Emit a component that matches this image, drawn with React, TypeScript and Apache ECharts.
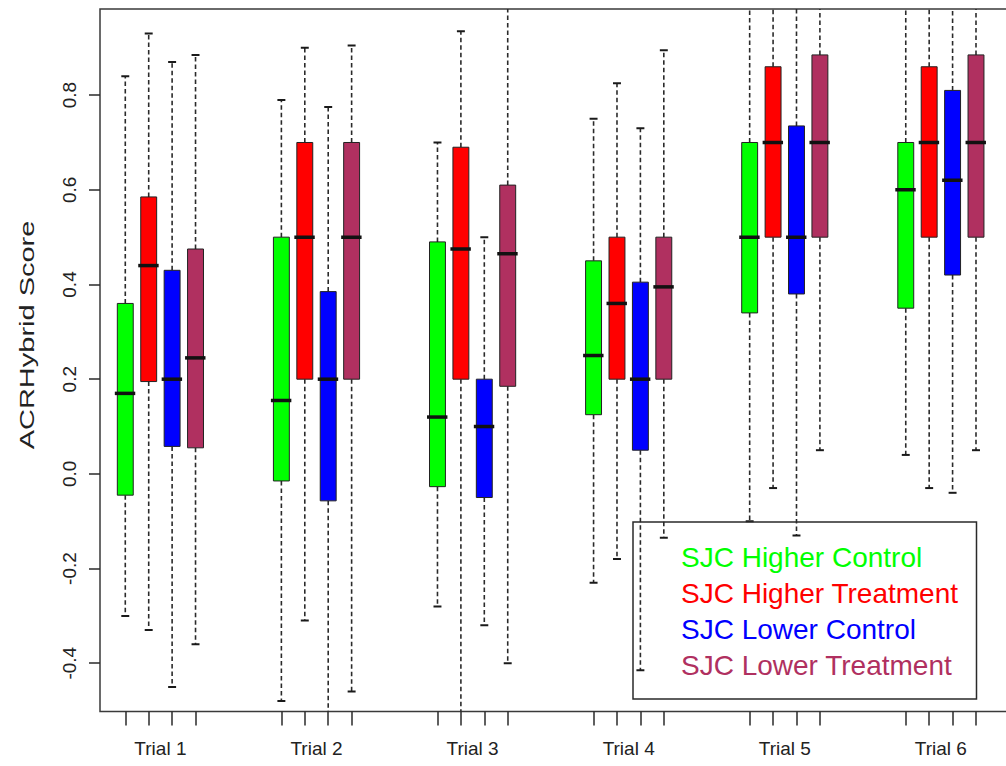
import React, { useEffect, useRef } from "react";
import * as echarts from "echarts";

// ---- Data ----
const trials = ["Trial 1", "Trial 2", "Trial 3", "Trial 4", "Trial 5", "Trial 6"];
const yTicks = [-0.4, -0.2, 0.0, 0.2, 0.4, 0.6, 0.8];
const seriesNames = [
  "SJC Higher Control",
  "SJC Higher Treatment",
  "SJC Lower Control",
  "SJC Lower Treatment",
];
const seriesColors = ["#00FF00", "#FF0000", "#0000FF", "#B03060"];

// each row: [lower whisker, Q1, median, Q3, upper whisker] per trial
const higherControl = [
  [-0.30, -0.045, 0.17, 0.36, 0.84],
  [-0.48, -0.015, 0.155, 0.50, 0.79],
  [-0.28, -0.027, 0.12, 0.49, 0.70],
  [-0.23, 0.125, 0.25, 0.45, 0.75],
  [-0.10, 0.34, 0.50, 0.70, 1.10],
  [0.04, 0.35, 0.60, 0.70, 1.10],
];
const higherTreatment = [
  [-0.33, 0.195, 0.44, 0.585, 0.93],
  [-0.31, 0.20, 0.50, 0.70, 0.90],
  [-0.56, 0.20, 0.475, 0.69, 0.935],
  [-0.18, 0.20, 0.36, 0.50, 0.825],
  [-0.03, 0.50, 0.70, 0.86, 1.10],
  [-0.03, 0.50, 0.70, 0.86, 1.10],
];
const lowerControl = [
  [-0.45, 0.058, 0.20, 0.43, 0.87],
  [-0.56, -0.057, 0.20, 0.385, 0.775],
  [-0.32, -0.05, 0.10, 0.20, 0.50],
  [-0.415, 0.05, 0.20, 0.405, 0.73],
  [-0.13, 0.38, 0.50, 0.735, 1.10],
  [-0.04, 0.42, 0.62, 0.81, 1.10],
];
const lowerTreatment = [
  [-0.36, 0.055, 0.245, 0.475, 0.885],
  [-0.46, 0.20, 0.50, 0.70, 0.905],
  [-0.40, 0.185, 0.465, 0.61, 1.10],
  [-0.135, 0.20, 0.395, 0.50, 0.895],
  [0.05, 0.50, 0.70, 0.885, 1.10],
  [0.05, 0.50, 0.70, 0.885, 1.10],
];
const allStats = [higherControl, higherTreatment, lowerControl, lowerTreatment];

// layout of box positions on the x value axis
const GROUP_SPACING = 20 / 3;
const boxPos = (g: number, s: number) => g * GROUP_SPACING + s + 1;
const groupCenter = (g: number) => g * GROUP_SPACING + 2.5;

const FONT = "'Liberation Sans', Arial, Helvetica, sans-serif";

export default function App() {
  const ref = useRef<HTMLDivElement>(null);

  useEffect(() => {
    if (!ref.current) return;
    const chart = echarts.init(ref.current, undefined, { renderer: "svg" });

    const renderItem = (params: any, api: any) => {
      const x = api.value(0);
      const pLow = api.coord([x, api.value(1)]);
      const pQ1 = api.coord([x, api.value(2)]);
      const pMed = api.coord([x, api.value(3)]);
      const pQ3 = api.coord([x, api.value(4)]);
      const pHigh = api.coord([x, api.value(5)]);
      const bw = api.size([1, 0])[0] * 0.68;
      const cx = pLow[0];
      const color = api.visual("color");
      const dash = { stroke: "#2a2a2a", lineWidth: 1.6, lineDash: [4.5, 3] };
      const cap = { stroke: "#1a1a1a", lineWidth: 2 };
      return {
        type: "group",
        children: [
          { type: "line", shape: { x1: cx, y1: pQ3[1], x2: cx, y2: pHigh[1] }, style: dash },
          { type: "line", shape: { x1: cx, y1: pQ1[1], x2: cx, y2: pLow[1] }, style: dash },
          { type: "line", shape: { x1: cx - bw / 4, y1: pHigh[1], x2: cx + bw / 4, y2: pHigh[1] }, style: cap },
          { type: "line", shape: { x1: cx - bw / 4, y1: pLow[1], x2: cx + bw / 4, y2: pLow[1] }, style: cap },
          {
            type: "rect",
            shape: { x: cx - bw / 2, y: pQ3[1], width: bw, height: pQ1[1] - pQ3[1] },
            style: { fill: color, stroke: "#222", lineWidth: 1 },
          },
          {
            type: "line",
            shape: { x1: cx - bw / 2 - 2.5, y1: pMed[1], x2: cx + bw / 2 + 2, y2: pMed[1] },
            style: { stroke: "#111", lineWidth: 3.5 },
          },
        ],
      };
    };

    const series = allStats.map((stats, s) => ({
      type: "custom",
      name: seriesNames[s],
      clip: true,
      itemStyle: { color: seriesColors[s] },
      renderItem,
      data: stats.map((d, g) => [boxPos(g, s), ...d]),
      encode: { x: 0, y: [1, 2, 3, 4, 5] },
    }));

    const xTickValues: number[] = [];
    trials.forEach((_, g) => seriesNames.forEach((__, s) => xTickValues.push(boxPos(g, s))));
    const xLabelValues = trials.map((_, g) => groupCenter(g));

    chart.setOption({
      animation: false,
      backgroundColor: "#ffffff",
      textStyle: { fontFamily: FONT },
      grid: {
        left: 100,
        top: 9,
        right: -2,
        bottom: 54.5,
        show: true,
        borderColor: "#3a3a3a",
        borderWidth: 1.5,
        outerBoundsMode: "none",
      },
      xAxis: {
        type: "value",
        min: -0.08,
        max: 38.7,
        splitLine: { show: false },
        axisLine: { show: false, onZero: false },
        axisTick: {
          show: true,
          inside: false,
          length: 14,
          customValues: xTickValues,
          lineStyle: { color: "#2a2a2a", width: 1.5 },
        },
        axisLabel: {
          customValues: xLabelValues,
          margin: 27,
          fontSize: 19,
          color: "#222",
          fontFamily: FONT,
          formatter: (v: number) => {
            const idx = xLabelValues.findIndex((c) => Math.abs(c - v) < 1e-6);
            return idx >= 0 ? trials[idx] : "";
          },
        },
      },
      yAxis: {
        type: "value",
        min: -0.502,
        max: 0.982,
        splitLine: { show: false },
        axisLine: { show: false, onZero: false },
        axisTick: {
          show: true,
          inside: false,
          length: 11,
          customValues: yTicks,
          lineStyle: { color: "#2a2a2a", width: 1.5 },
        },
        axisLabel: {
          customValues: yTicks,
          rotate: 90,
          margin: 21,
          fontSize: 19,
          color: "#222",
          fontFamily: FONT,
          formatter: (v: number) => v.toFixed(1),
        },
      },
      legend: {
        orient: "vertical",
        left: 633,
        top: 522,
        padding: [21, 18, 20, 43],
        itemWidth: 0,
        itemHeight: 0,
        itemGap: 8,
        selectedMode: false,
        borderColor: "#2a2a2a",
        borderWidth: 1.5,
        backgroundColor: "transparent",
        data: seriesNames.map((n, i) => ({
          name: n,
          icon: "rect",
          itemStyle: { opacity: 0 },
          textStyle: { color: seriesColors[i], fontSize: 28, lineHeight: 28, fontFamily: FONT },
        })),
      },
      graphic: [
        {
          type: "text",
          x: 27,
          y: 335,
          rotation: Math.PI / 2,
          scaleX: 1.45,
          style: {
            text: "ACRHybrid Score",
            fontSize: 20,
            fontFamily: FONT,
            fill: "#222",
            align: "center",
            verticalAlign: "middle",
          },
        },
      ],
      series,
    });

    return () => chart.dispose();
  }, []);

  return (
    <div
      ref={ref}
      style={{ position: "fixed", left: 0, top: 0, width: 1006, height: 766, background: "#fff" }}
    />
  );
}
